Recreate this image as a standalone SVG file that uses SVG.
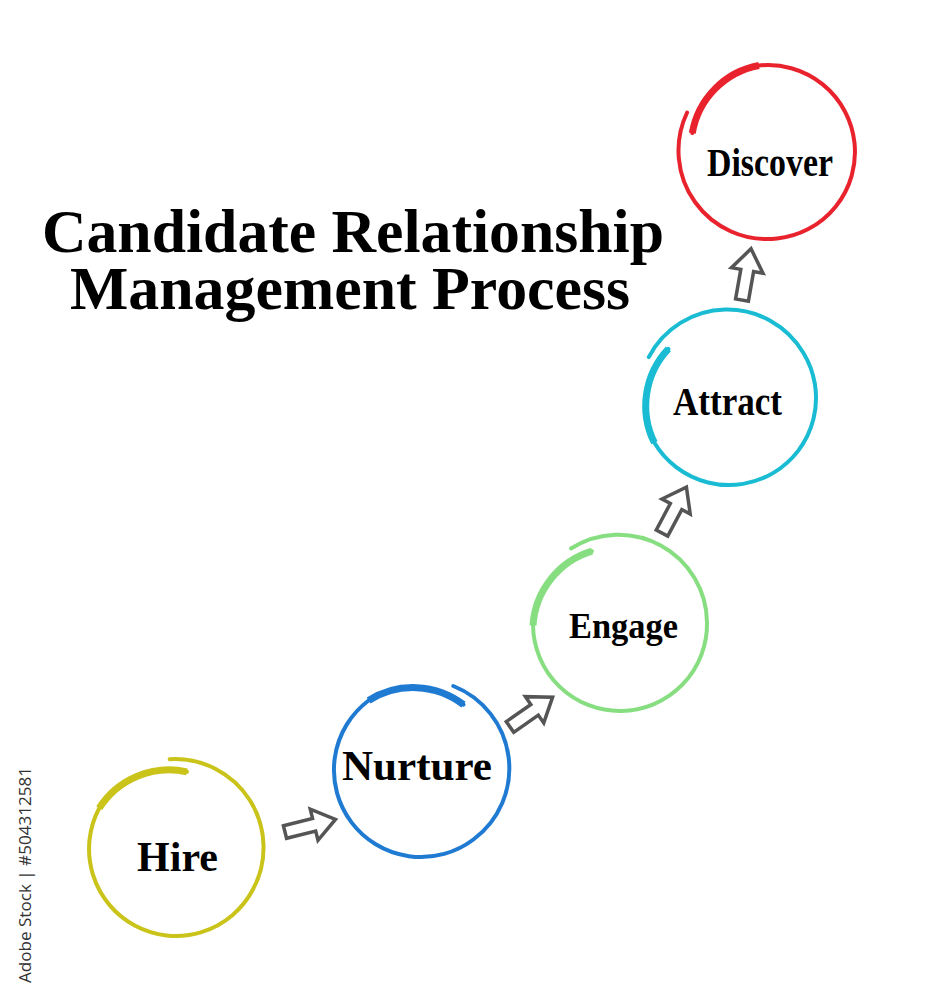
<svg xmlns="http://www.w3.org/2000/svg" width="932" height="1000" viewBox="0 0 932 1000">
<style>
.ring{fill:none;stroke-width:4;stroke-linecap:round}
.brush{fill:none;stroke-width:7;stroke-linecap:butt}
.lbl{font-family:"Liberation Serif","Times New Roman",serif;font-weight:bold;fill:#000;text-anchor:middle}
.title{font-family:"Liberation Serif","Times New Roman",serif;font-weight:bold;font-size:62px;fill:#000;text-anchor:middle}
.arrow{fill:#fff;stroke:#555;stroke-width:3.5;stroke-linejoin:miter}
.wm{font-family:"Open Sans","Noto Sans",sans-serif;font-size:16px;fill:#333}
</style>
<defs>
<path id="blk" d="M0,-6.5 H30 V-16 L52,0 L30,16 V6.5 H0 Z"/>
</defs>
<rect width="932" height="1000" fill="#fff"/>
<g id="title">
<text class="title" x="353" y="252" textLength="622" lengthAdjust="spacingAndGlyphs">Candidate Relationship</text>
<text class="title" x="350" y="309" textLength="560" lengthAdjust="spacingAndGlyphs">Management Process</text>
</g>
<g id="connectors">
<use href="#blk" class="arrow" transform="translate(285,832) rotate(-14)"/>
<use href="#blk" class="arrow" transform="translate(510,727) rotate(-35)"/>
<use href="#blk" class="arrow" transform="translate(662,533) rotate(-62)"/>
<use href="#blk" class="arrow" transform="translate(742,300) rotate(-80)"/>
</g>
<g id="hire">
<path class="ring" stroke="#c9c31a" d="M186.9,771.8 A83,83 0 0 0 99.2,808.2 A87,87 0 0 0 135.2,925.8 A87,87 0 0 0 252.8,889.8 A88.5,88.5 0 0 0 169.7,759.2"/>
<path class="brush" stroke="#c9c31a" d="M186.9,771.8 A83,83 0 0 0 99.2,808.2"/>
<text class="lbl" x="177.5" y="871" font-size="42">Hire</text>
</g>
<g id="nurture">
<path class="ring" stroke="#1f7ad2" d="M463.5,704.6 A83,83 0 0 0 368.6,700.5 A87,87 0 0 0 351.5,822.4 A87,87 0 0 0 473.4,839.5 A88.5,88.5 0 0 0 453.3,686"/>
<path class="brush" stroke="#1f7ad2" d="M463.5,704.6 A83,83 0 0 0 368.6,700.5"/>
<text class="lbl" x="417" y="780" font-size="43" textLength="150" lengthAdjust="spacingAndGlyphs">Nurture</text>
</g>
<g id="engage">
<path class="ring" stroke="#87de80" d="M592,551.2 A83,83 0 0 0 533,625.5 A87,87 0 0 0 621.5,711 A87,87 0 0 0 707,622.5 A88.5,88.5 0 0 0 571,548.5"/>
<path class="brush" stroke="#87de80" d="M592,551.2 A83,83 0 0 0 533,625.5"/>
<text class="lbl" x="623.5" y="638" font-size="35" textLength="109" lengthAdjust="spacingAndGlyphs">Engage</text>
</g>
<g id="attract">
<path class="ring" stroke="#19bcd2" d="M668.4,348.9 A83,83 0 0 0 654.4,442.8 A87,87 0 0 0 773.8,472.6 A87,87 0 0 0 803.6,353.2 A88.5,88.5 0 0 0 648.8,357.1"/>
<path class="brush" stroke="#19bcd2" d="M668.4,348.9 A83,83 0 0 0 654.4,442.8"/>
<text class="lbl" x="727.5" y="415" font-size="40" textLength="109" lengthAdjust="spacingAndGlyphs">Attract</text>
</g>
<g id="discover">
<path class="ring" stroke="#e8232d" d="M692.3,133.1 A83,83 0 0 1 758.9,65.5 A87,87 0 0 1 854.5,142.9 A87,87 0 0 1 777.1,238.5 A88.5,88.5 0 0 1 687.1,112.5"/>
<path class="brush" stroke="#e8232d" d="M692.3,133.1 A83,83 0 0 1 758.9,65.5"/>
<text class="lbl" x="770" y="176" font-size="40" textLength="126" lengthAdjust="spacingAndGlyphs">Discover</text>
</g>
<text class="wm" transform="translate(31,983) rotate(-90)" textLength="216" lengthAdjust="spacingAndGlyphs">Adobe Stock | #504312581</text>
</svg>
